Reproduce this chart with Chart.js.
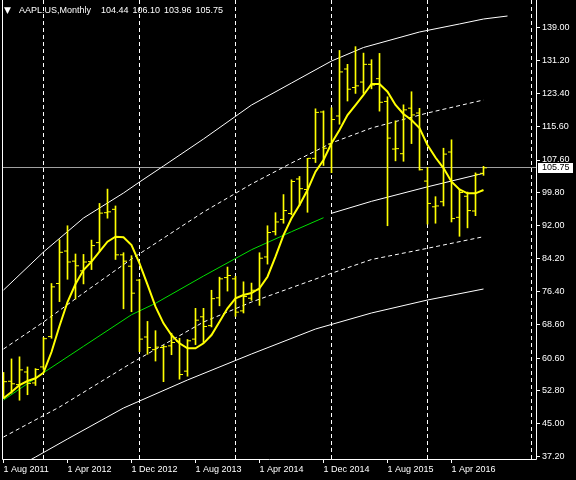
<!DOCTYPE html>
<html><head><meta charset="utf-8">
<script src="https://cdn.jsdelivr.net/npm/chart.js@4.4.1/dist/chart.umd.min.js"></script>
<style>
html,body{margin:0;padding:0;background:#000;}
#wrap{position:relative;width:576px;height:480px;overflow:hidden;}
.ttl{position:absolute;top:4px;color:#fff;font:9px 'Liberation Sans',Arial,sans-serif;white-space:pre;line-height:12px;}
</style></head><body>
<div id="wrap"><canvas id="c" width="576" height="480"></canvas>
<div class="ttl" style="left:4px;font-size:9px;top:4px;font-family:'DejaVu Sans',sans-serif;">▼</div>
<div class="ttl" style="left:19px;">AAPL.US,Monthly</div>
<div class="ttl" style="left:101px;word-spacing:1.5px;">104.44 106.10 103.96 105.75</div>
</div>
<script>
// ---- data (monthly bars, Aug 2011 .. Aug 2016; x = month index) ----
const xTickIdx = [0, 8, 16, 24, 32, 40, 48, 56];
const xTickLabels = ['1 Aug 2011','1 Apr 2012','1 Dec 2012','1 Aug 2013','1 Apr 2014','1 Dec 2014','1 Aug 2015','1 Apr 2016'];
const yTickLabels = ['37.20','45.00','52.80','60.60','68.60','76.40','84.20','92.00','99.80','107.60','115.60','123.40','131.20','139.00'];
const yearSeparators = [5, 17, 29, 41, 53, 66.06];

const open = [56.8,55.1,54.3,57.3,54.7,58.5,65.7,78.3,86.0,83.6,
  81.3,83.5,88.0,95.1,95.9,85.1,82.4,79.1,65.6,62.6,
  63.1,63.5,64.6,57.5,65.1,70.4,68.3,74.9,79.7,79.4,
  71.8,74.8,76.8,84.6,90.6,93.5,94.9,103.1,100.6,108.0,
  119.0,111.4,118.05,129.2,124.8,126.1,130.3,126.9,121.5,110.2,
  109.1,119.9,118.75,102.6,96.5,97.7,109.5,94.0,99.0,95.5,104.44];
const high = [57.2,60.4,60.9,58.5,58.1,65.5,78.3,88.7,92.0,85.3,
  85.2,88.6,97.3,100.7,96.7,85.6,84.9,79.3,69.3,67.1,
  63.6,66.5,65.3,65.0,72.4,72.4,76.7,79.8,82.2,80.0,
  78.7,78.4,85.6,92.0,95.1,99.4,102.9,103.7,108.0,119.75,
  119.25,120.0,133.6,130.3,134.5,132.97,131.4,132.9,122.6,116.9,
  120.7,123.8,119.86,105.85,98.9,110.4,112.4,100.7,100.0,104.55,106.10];
const low = [51.0,52.3,50.6,51.9,54.1,57.9,65.3,74.0,79.3,74.6,
  78.2,81.6,85.9,93.8,84.0,72.3,71.6,62.1,61.5,59.9,
  55.0,61.4,55.6,56.3,63.8,64.3,68.0,73.0,76.5,70.5,
  71.3,74.3,73.1,82.9,89.8,92.6,94.6,96.8,95.2,107.0,
  106.3,104.6,116.1,121.6,123.4,123.4,124.5,119.2,92.0,107.4,
  107.3,111.5,105.2,92.4,92.6,96.7,92.9,89.5,91.5,94.4,103.96];
const close = [55.0,54.5,57.8,54.6,57.9,65.2,77.5,85.7,83.4,82.5,
  83.4,87.3,95.0,95.3,85.1,83.6,76.0,65.1,63.1,63.2,
  63.3,64.3,56.7,64.7,69.6,68.1,74.7,79.4,80.2,71.5,
  75.2,76.7,84.3,90.4,92.9,95.6,102.5,100.8,108.0,118.9,
  110.4,117.2,128.5,124.4,125.2,130.3,125.4,121.3,112.8,110.3,
  119.5,118.3,105.3,97.3,96.7,109.0,93.7,99.9,95.6,104.2,105.75];

const yellowMA = [51.05,52.55,54.21,55.16,55.80,57.13,62.04,68.21,73.90,78.18,
  81.50,83.47,85.84,88.21,89.40,89.26,87.43,83.09,78.04,72.79,
  68.85,66.07,64.10,62.92,62.92,64.10,66.07,69.23,72.41,74.78,
  75.57,76.04,77.16,79.91,84.66,89.80,93.77,96.92,100.48,104.83,
  107.60,111.57,114.72,118.28,120.65,123.03,125.64,125.64,123.81,120.65,
  118.52,117.09,115.20,111.16,108.20,105.70,102.45,100.60,99.70,99.70,100.48];

const upperSolidIdx = [0,5,10,15,17,20,25,31,36,41,45,52,57,60,63];
const upperSolidVal = [76.75,85.77,93.84,99.77,102.38,106.18,112.59,120.65,125.87,131.09,134.30,137.98,139.88,141.06,141.77];
const upperDashIdx = [0,5,10,16,25,31,36,41,46,53,60];
const upperDashVal = [62.75,69.16,76.04,84.11,95.26,101.91,106.89,111.64,115.20,118.76,121.84];
const greenIdx = [0,5,10,16,19,25,31,36,40];
const greenVal = [50.65,57.13,63.39,70.89,73.60,80.07,86.32,90.59,93.91];
const midWhiteIdx = [41,46,53,60];
const midWhiteVal = [94.96,97.8,101.24,104.45];
const lowerDashIdx = [0,7,16,25,31,41,46,53,60];
const lowerDashVal = [41.87,48.99,59.43,69.16,73.90,80.72,83.99,86.65,89.40];
const lowerSolidIdx = [0,4,8,15,23,31,39,46,53,60];
const lowerSolidVal = [32.85,37.12,41.40,48.75,55.40,61.57,67.50,71.30,74.38,76.99];

// ---- build ----
const pts = (idx, val) => idx.map((x, k) => ({x: x, y: val[k]}));
const lastClose = close[close.length - 1];
const FONT = {family: "'Liberation Sans', Arial, sans-serif", size: 9};
const YEL = '#ffff00';

const lineDs = (data, color, width, dash, order) => ({
  type: 'line', data, borderColor: color, borderWidth: width, borderDash: dash || [],
  pointRadius: 0, pointHoverRadius: 0, pointHitRadius: 0, fill: false, tension: 0, order
});

const mtPlugin = {
  id: 'mt',
  beforeDraw(chart) {
    const c = chart.ctx;
    c.save(); c.fillStyle = '#000'; c.fillRect(0, 0, chart.width, chart.height); c.restore();
  },
  beforeDatasetsDraw(chart) {
    const c = chart.ctx, a = chart.chartArea, xs = chart.scales.x, ys = chart.scales.y;
    c.save();
    c.strokeStyle = '#ffffff'; c.lineWidth = 1; c.setLineDash([4, 3]);
    yearSeparators.forEach(v => {
      const px = Math.floor(xs.getPixelForValue(v)) + 0.5;
      c.beginPath(); c.moveTo(px, a.top); c.lineTo(px, a.bottom); c.stroke();
    });
    c.setLineDash([]);
    const py = Math.floor(ys.getPixelForValue(lastClose)) + 0.5;
    c.strokeStyle = '#a0a0a0';
    c.beginPath(); c.moveTo(a.left, py); c.lineTo(a.right, py); c.stroke();
    c.restore();
  },
  afterDraw(chart) {
    const c = chart.ctx, a = chart.chartArea, ys = chart.scales.y;
    c.save();
    c.strokeStyle = '#ffffff'; c.lineWidth = 1;
    c.beginPath();
    c.moveTo(a.left + 0.5, a.top); c.lineTo(a.left + 0.5, a.bottom + 0.5);
    c.lineTo(a.right + 0.5, a.bottom + 0.5); c.lineTo(a.right + 0.5, a.top);
    c.stroke();
    const py = Math.floor(ys.getPixelForValue(lastClose));
    c.fillStyle = '#ffffff';
    c.fillRect(a.right + 2, py - 4, 35, 10);
    c.fillStyle = '#000000';
    c.font = "9px 'Liberation Sans', Arial, sans-serif";
    c.textBaseline = 'middle'; c.textAlign = 'left';
    c.fillText(lastClose.toFixed(2), a.right + 6, py + 1);
    c.restore();
  }
};

new Chart(document.getElementById('c'), {
  type: 'bar',
  data: {
    datasets: [
      lineDs(pts(upperSolidIdx, upperSolidVal), '#ffffff', 1, null, 10),
      lineDs(pts(upperDashIdx, upperDashVal), '#ffffff', 1, [4, 3], 10),
      lineDs(pts(midWhiteIdx, midWhiteVal), '#ffffff', 1, null, 10),
      lineDs(pts(lowerDashIdx, lowerDashVal), '#ffffff', 1, [4, 3], 10),
      lineDs(pts(lowerSolidIdx, lowerSolidVal), '#ffffff', 1, null, 10),
      lineDs(pts(greenIdx, greenVal), '#00e000', 1, null, 8),
      {
        type: 'bar', data: high.map((h, i) => ({x: i, y: [low[i], h]})),
        backgroundColor: YEL, borderWidth: 0, barThickness: 1, grouped: false, order: 5
      },
      {
        type: 'line', showLine: false, data: open.map((o, i) => ({x: i - 0.25, y: o})),
        pointStyle: 'line', pointRadius: 1.5, pointHoverRadius: 1.5, pointHitRadius: 0,
        pointBorderWidth: 1, pointBorderColor: YEL, order: 4
      },
      {
        type: 'line', showLine: false, data: close.map((v, i) => ({x: i + 0.25, y: v})),
        pointStyle: 'line', pointRadius: 1.5, pointHoverRadius: 1.5, pointHitRadius: 0,
        pointBorderWidth: 1, pointBorderColor: YEL, order: 4
      },
      lineDs(yellowMA.map((v, i) => ({x: i, y: v})), YEL, 2, null, 1)
    ]
  },
  options: {
    responsive: false, animation: false, events: [],
    layout: {autoPadding: false, padding: {left: 2, top: 0, right: 0, bottom: 0}},
    plugins: {legend: {display: false}, tooltip: {enabled: false}, title: {display: false}},
    scales: {
      x: {
        type: 'linear', min: -0.1875, max: 66.5625, offset: false,
        grid: {offset: false, drawOnChartArea: false, drawTicks: true, tickLength: 4, color: '#ffffff'},
        border: {display: false},
        ticks: {color: '#ffffff', font: FONT, align: 'start', padding: 1, autoSkip: false, maxRotation: 0,
          callback: (v) => { const k = xTickIdx.indexOf(v); return k >= 0 ? xTickLabels[k] : ''; }},
        afterBuildTicks: (s) => { s.ticks = xTickIdx.map(v => ({value: v})); },
        afterFit: (s) => { s.height = 21; s.paddingLeft = 0; s.paddingRight = 0; }
      },
      y: {
        type: 'linear', position: 'right', min: 36.654, max: 145.57,
        grid: {drawOnChartArea: false, drawTicks: true, tickLength: 4, color: '#ffffff'},
        border: {display: false},
        ticks: {color: '#ffffff', font: FONT, padding: 2, autoSkip: false,
          callback: (v, i) => yTickLabels[i]},
        afterBuildTicks: (s) => { s.ticks = yTickLabels.map(l => ({value: parseFloat(l)})); },
        afterFit: (s) => { s.width = 40; s.paddingTop = 0; s.paddingBottom = 0; }
      }
    }
  },
  plugins: [mtPlugin]
});
</script></body></html>
